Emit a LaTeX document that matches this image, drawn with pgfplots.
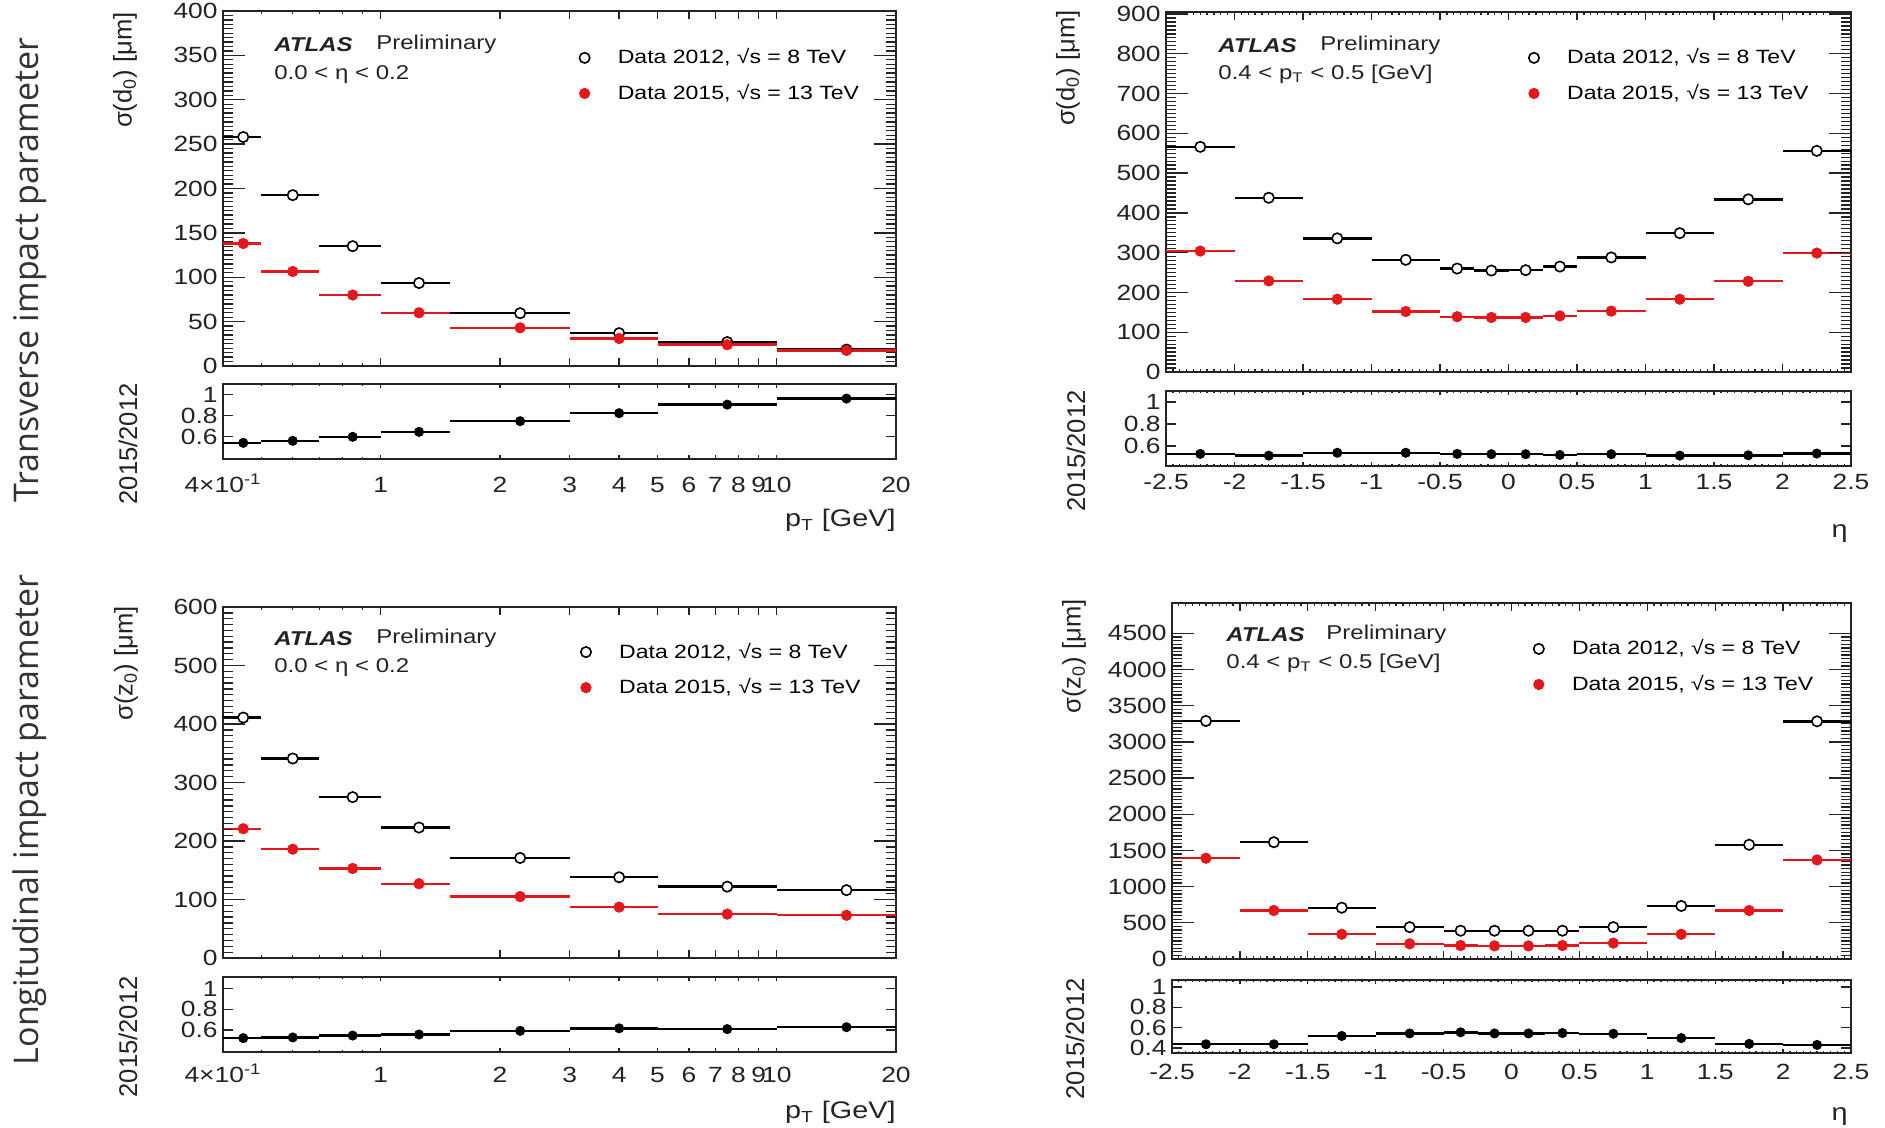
\documentclass[border=0pt]{standalone}
\usepackage{fontspec}
\setmainfont{Liberation Sans}[FakeStretch=1.2]
\newfontfamily\rotfont{Liberation Sans}
\newfontfamily\rowfont{Open Sans}
\usepackage{pgfplots}
\usepackage{pgfplotstable}
\pgfplotsset{compat=1.18}
\definecolor{rred}{RGB}{226,24,28}
\definecolor{frame}{RGB}{35,35,35}

\pgfplotstableread{
x ex a b r
0.45 0.05 258 138 0.543
0.6 0.1 192.5 106.5 0.562
0.85 0.15 135 80 0.600
1.25 0.25 93.5 60 0.647
2.25 0.75 59.5 43 0.748
4 1 37 31 0.824
7.5 2.5 27 24 0.905
15 5 18.5 17.6 0.962
}\tl
\pgfplotstableread{
x ex a b r
-2.25 0.25 566 304 0.530
-1.75 0.25 438 229 0.514
-1.25 0.25 336 183 0.540
-0.75 0.25 282 152 0.540
-0.375 0.125 260 139 0.530
-0.125 0.125 255 137 0.527
0.125 0.125 256 137 0.527
0.375 0.125 265 141 0.520
0.75 0.25 288 153 0.527
1.25 0.25 349 183 0.514
1.75 0.25 434 228 0.517
2.25 0.25 556 299 0.533
}\tr
\pgfplotstableread{
x ex a b r
0.45 0.05 411 221 0.523
0.6 0.1 341 186 0.530
0.85 0.15 275 153 0.548
1.25 0.25 223 127 0.558
2.25 0.75 171 105 0.593
4 1 138 87 0.617
7.5 2.5 122 75 0.610
15 5 116 73 0.628
}\bl
\pgfplotstableread{
x ex a b r
-2.25 0.25 3290 1393 0.436
-1.75 0.25 1614 670 0.436
-1.25 0.25 709 342 0.518
-0.75 0.25 440 210 0.543
-0.375 0.125 391 186 0.554
-0.125 0.125 391 181 0.543
0.125 0.125 391 181 0.543
0.375 0.125 391 186 0.547
0.75 0.25 440 220 0.540
1.25 0.25 733 342 0.497
1.75 0.25 1579 670 0.440
2.25 0.25 3285 1369 0.430
}\br

\pgfplotsset{
 common/.style={scale only axis, anchor=south west, tick align=inside,
   xtick pos=both, ytick pos=both, xticklabel pos=lower, yticklabel pos=left,
   axis line style={line width=0.9pt, frame},
   every tick/.style={line width=0.65pt, frame},
   tick label style={font=\fontsize{11}{12}\selectfont, text=frame},
   /pgf/number format/assume math mode=true, /pgf/number format/1000 sep={},
   scaled y ticks=false,
   yticklabel style={inner sep=0pt, xshift=-2.5pt},
   xticklabel style={inner sep=0pt, text height=8pt, text depth=1pt}},
 ptx/.style={xmin=0.4, xmax=20, xtick={0.4,1,2,3,4,5,6,7,8,9,10,20},
   minor xtick={0.5,0.6,0.7,0.8,0.9},
   xticklabels={4×10\textsuperscript{-1},1,2,3,4,5,6,7,8,9,10,20}},
 etax/.style={xmin=-2.5, xmax=2.5, xtick={-2.5,-2,-1.5,-1,-0.5,0,0.5,1,1.5,2,2.5}, minor x tick num=9,
   xticklabels={-2.5,-2,-1.5,-1,-0.5,0,0.5,1,1.5,2,2.5}},
 mainA/.style={common, every y tick/.append style={draw opacity=0},
   major tick length=4pt, minor tick length=1.5pt,
   legend style={anchor=north west, draw=none, fill=none, inner sep=0pt, row sep=4.7pt, column sep=12pt,
     font=\fontsize{9.6}{11}\selectfont, nodes={inner sep=2pt, text depth=0.15em}},
   legend cell align=left},
 ratioA/.style={common, every y tick/.append style={draw opacity=0},
   major tick length=2pt, minor tick length=1pt},
 ovl/.style={common, axis line style={draw=none}, xtick=\empty, yticklabel=\empty, xmin=0, xmax=1},
 e12/.style={only marks, mark=*, mark size=2.6pt, black,
   mark options={fill=white, draw=black, line width=0.8pt},
   error bars/x dir=both, error bars/x explicit, error bars/error mark=none,
   error bars/error bar style={line width=1.2pt, black}},
 e15/.style={only marks, mark=*, mark size=2.6pt, rred,
   error bars/x dir=both, error bars/x explicit, error bars/error mark=none,
   error bars/error bar style={line width=1.2pt, rred}},
 er/.style={only marks, mark=*, mark size=2.3pt, black,
   error bars/x dir=both, error bars/x explicit, error bars/error mark=none,
   error bars/error bar style={line width=1.2pt, black}},
}
\newcommand{\yovl}[5]{\begin{axis}[ovl, at={#1}, width=#2, height=#3, #4, major tick length=#5, minor tick length=5pt]\end{axis}}

\begin{document}
\begin{tikzpicture}
\fill[white] (0,0) rectangle (942.5pt,-564pt);
\useasboundingbox (0,0) rectangle (942.5pt,-564pt);

% ---------- top left ----------
\begin{axis}[xmode=log, mainA, ptx, xticklabels={}, at={(111.5pt,-183pt)}, width=336.5pt, height=177.5pt,
  ymin=0, ymax=400, ytick={0,50,...,400}, legend style={at={(0.529,0.906)}}]
\addplot[e12] table[x=x, y=a, x error=ex]{\tl};
\addlegendentry{Data 2012, √s = 8 TeV}
\addplot[e15] table[x=x, y=b, x error=ex]{\tl};
\addlegendentry{Data 2015, √s = 13 TeV}
\end{axis}
\yovl{(111.5pt,-183pt)}{336.5pt}{177.5pt}{ymin=0,ymax=400,ytick={0,50,...,400},minor y tick num=9}{11pt}
\begin{axis}[xmode=log, ratioA, ptx, at={(111.5pt,-229.5pt)}, width=336.5pt, height=37.5pt,
  ymin=0.39, ymax=1.1, ytick={0.6,0.8,1}, xticklabel style={yshift=-8.5pt}]
\addplot[er] table[x=x, y=r, x error=ex]{\tl};
\end{axis}
\yovl{(111.5pt,-229.5pt)}{336.5pt}{37.5pt}{ymin=0.39,ymax=1.1,ytick={0.6,0.8,1}}{5pt}

% ---------- top right ----------
\begin{axis}[mainA, etax, xticklabels={}, at={(583pt,-186pt)}, width=342.5pt, height=180pt,
  ymin=0, ymax=905, ytick={0,100,...,900}, legend style={at={(0.529,0.91)}}]
\addplot[e12] table[x=x, y=a, x error=ex]{\tr};
\addlegendentry{Data 2012, √s = 8 TeV}
\addplot[e15] table[x=x, y=b, x error=ex]{\tr};
\addlegendentry{Data 2015, √s = 13 TeV}
\end{axis}
\yovl{(583pt,-186pt)}{342.5pt}{180pt}{ymin=0,ymax=905,ytick={0,100,...,900},minor y tick num=9}{11pt}
\begin{axis}[ratioA, etax, at={(583pt,-233pt)}, width=342.5pt, height=37.5pt,
  ymin=0.42, ymax=1.1, ytick={0.6,0.8,1}, xticklabel style={yshift=-3.7pt}]
\addplot[er] table[x=x, y=r, x error=ex]{\tr};
\end{axis}
\yovl{(583pt,-233pt)}{342.5pt}{37.5pt}{ymin=0.42,ymax=1.1,ytick={0.6,0.8,1}}{5pt}

% ---------- bottom left ----------
\begin{axis}[xmode=log, mainA, ptx, xticklabels={}, at={(111.5pt,-479pt)}, width=336.5pt, height=175.5pt,
  ymin=0, ymax=600, ytick={0,100,...,600}, legend style={at={(0.531,0.91)}}]
\addplot[e12] table[x=x, y=a, x error=ex]{\bl};
\addlegendentry{Data 2012, √s = 8 TeV}
\addplot[e15] table[x=x, y=b, x error=ex]{\bl};
\addlegendentry{Data 2015, √s = 13 TeV}
\end{axis}
\yovl{(111.5pt,-479pt)}{336.5pt}{175.5pt}{ymin=0,ymax=600,ytick={0,100,...,600},minor y tick num=9}{11pt}
\begin{axis}[xmode=log, ratioA, ptx, at={(111.5pt,-526pt)}, width=336.5pt, height=37.5pt,
  ymin=0.39, ymax=1.11, ytick={0.6,0.8,1}, xticklabel style={yshift=-7pt}]
\addplot[er] table[x=x, y=r, x error=ex]{\bl};
\end{axis}
\yovl{(111.5pt,-526pt)}{336.5pt}{37.5pt}{ymin=0.39,ymax=1.11,ytick={0.6,0.8,1}}{5pt}

% ---------- bottom right ----------
\begin{axis}[mainA, etax, xticklabels={}, at={(586pt,-479.5pt)}, width=339.5pt, height=178pt,
  ymin=0, ymax=4920, ytick={0,500,...,4500}, legend style={at={(0.532,0.909)}}]
\addplot[e12] table[x=x, y=a, x error=ex]{\br};
\addlegendentry{Data 2012, √s = 8 TeV}
\addplot[e15] table[x=x, y=b, x error=ex]{\br};
\addlegendentry{Data 2015, √s = 13 TeV}
\end{axis}
\yovl{(586pt,-479.5pt)}{339.5pt}{178pt}{ymin=0,ymax=4920,ytick={0,500,...,4500},minor y tick num=9}{11pt}
\begin{axis}[ratioA, etax, at={(586pt,-526.5pt)}, width=339.5pt, height=36.5pt,
  ymin=0.35, ymax=1.07, ytick={0.4,0.6,0.8,1}, xticklabel style={yshift=-5pt}]
\addplot[er] table[x=x, y=r, x error=ex]{\br};
\end{axis}
\yovl{(586pt,-526.5pt)}{339.5pt}{36.5pt}{ymin=0.35,ymax=1.07,ytick={0.4,0.6,0.8,1}}{5pt}

% ---------- annotations ----------
\tikzset{ann/.style={anchor=west, inner sep=0pt, font=\fontsize{10}{12}\selectfont, text=frame},
         atl/.style={anchor=west, inner sep=0pt, font=\fontsize{10}{12}\selectfont\bfseries\itshape, text=frame},
         ylab/.style={rotate=90, anchor=east, inner sep=0pt, font=\rotfont\fontsize{12.8}{14}\selectfont, text=frame},
         xlab/.style={anchor=east, inner sep=0pt, font=\fontsize{12}{14}\selectfont, text=frame},
         row/.style={rotate=90, inner sep=0pt, font=\rowfont\fontsize{17}{20}\selectfont, text=black!80}}
\node[atl] at (137pt,-22.2pt) {ATLAS};
\node[ann] at (188pt,-22.2pt) {Preliminary};
\node[ann] at (137pt,-37.2pt) {0.0 < η < 0.2};
\node[atl] at (609pt,-22.7pt) {ATLAS};
\node[ann] at (660pt,-22.7pt) {Preliminary};
\node[ann] at (609pt,-37.2pt) {0.4 < p\textsubscript{T} < 0.5 [GeV]};
\node[atl] at (137pt,-319.2pt) {ATLAS};
\node[ann] at (188pt,-319.2pt) {Preliminary};
\node[ann] at (137pt,-334pt) {0.0 < η < 0.2};
\node[atl] at (613pt,-317.2pt) {ATLAS};
\node[ann] at (663pt,-317.2pt) {Preliminary};
\node[ann] at (613pt,-331.8pt) {0.4 < p\textsubscript{T} < 0.5 [GeV]};

\node[ylab] at (62.5pt,-6pt) {σ(d\textsubscript{0}) [μm]};
\node[ylab] at (64pt,-191.5pt) {2015/2012};
\node[ylab] at (534pt,-5pt) {σ(d\textsubscript{0}) [μm]};
\node[ylab] at (538pt,-195pt) {2015/2012};
\node[ylab] at (63pt,-303pt) {σ(z\textsubscript{0}) [μm]};
\node[ylab] at (64pt,-488pt) {2015/2012};
\node[ylab] at (537pt,-299.5pt) {σ(z\textsubscript{0}) [μm]};
\node[ylab] at (537.5pt,-489pt) {2015/2012};

\node[xlab] at (448pt,-260.3pt) {p\textsubscript{T} [GeV]};
\node[xlab] at (924pt,-267pt) {η};
\node[xlab] at (448pt,-556.3pt) {p\textsubscript{T} [GeV]};
\node[xlab] at (924pt,-558.3pt) {η};

\node[row] at (15pt,-135pt) {Transverse impact parameter};
\node[row] at (15pt,-410pt) {Longitudinal impact parameter};
\end{tikzpicture}
\end{document}
